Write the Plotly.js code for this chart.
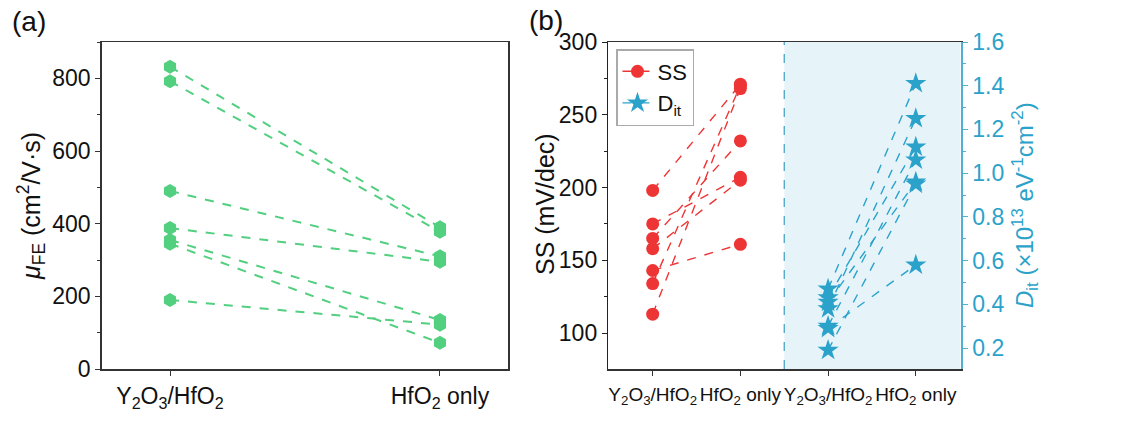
<!DOCTYPE html>
<html>
<head>
<meta charset="utf-8">
<script src="https://cdn.plot.ly/plotly-3.0.1.min.js"></script>
<style>html,body{margin:0;padding:0;background:#fff;}#chart{width:1123px;height:421px;}</style>
</head>
<body>
<div id="chart"></div>
<script>
// ---------- Data ----------
const categoriesA = ["Y<sub>2</sub>O<sub>3</sub>/HfO<sub>2</sub>", "HfO<sub>2</sub> only"];
// Panel (a): field-effect mobility, paired devices
const muY2O3 = [832, 792, 490, 388, 355, 345, 190];
const muHfO2 = [390, 378, 310, 295, 135, 72, 122];

// Panel (b): subthreshold swing (mV/dec)
const ssY2O3 = [198, 175, 165, 158, 143, 134, 113];
const ssHfO2 = [271, 207, 232, 205, 161, 270, 268];

// Panel (b): interface trap density (x1e13 eV^-1 cm^-2)
const ditY2O3 = [0.47, 0.43, 0.41, 0.38, 0.30, 0.29, 0.19];
const ditHfO2 = [1.41, 1.12, 0.96, 1.25, 1.06, 0.58, 0.95];

const categoriesB = ["Y<sub>2</sub>O<sub>3</sub>/HfO<sub>2</sub>", "HfO<sub>2</sub> only",
                     "Y<sub>2</sub>O<sub>3</sub>/HfO<sub>2</sub>", "HfO<sub>2</sub> only"];
const muTicks = [0, 200, 400, 600, 800];
const ssTicks = [100, 150, 200, 250, 300];
const ditTicks = [0.2, 0.4, 0.6, 0.8, 1.0, 1.2, 1.4, 1.6];

// ---------- Styles ----------
const FONT = "Liberation Sans, Arial, Helvetica, sans-serif";
const GREEN = "#52CF7F";
const RED = "#EE3535";
const BLUE = "#2BA2CA";
const BLUE_AXIS = "#4FB0D4";

const traces = [];
// Panel (a)
for (let i = 0; i < muY2O3.length; i++) {
  traces.push({
    x: [0, 1], y: [muY2O3[i], muHfO2[i]],
    xaxis: "x", yaxis: "y", mode: "lines+markers", showlegend: false,
    line: {color: GREEN, width: 2, dash: "dash"},
    marker: {symbol: "hexagon", size: 14, color: GREEN}
  });
}
// Panel (b) SS
for (let i = 0; i < ssY2O3.length; i++) {
  traces.push({
    x: [0, 1], y: [ssY2O3[i], ssHfO2[i]],
    xaxis: "x2", yaxis: "y2", mode: "lines+markers",
    name: "SS", legendgroup: "ss", showlegend: i === 0,
    line: {color: RED, width: 1.4, dash: "dash"},
    marker: {symbol: "circle", size: 13, color: RED}
  });
}
// Panel (b) Dit
for (let i = 0; i < ditY2O3.length; i++) {
  traces.push({
    x: [2, 3], y: [ditY2O3[i], ditHfO2[i]],
    xaxis: "x2", yaxis: "y3", mode: "lines+markers",
    name: "D<sub>it</sub>", legendgroup: "dit", showlegend: i === 0,
    line: {color: BLUE, width: 1.4, dash: "dash"},
    marker: {symbol: "star", size: 16, color: BLUE}
  });
}

const yTop = 1 - 42 / 421, yBot = 1 - 369 / 421;
const tickFont = {family: FONT, size: 23, color: "#111"};

const layout = {
  width: 1123, height: 421,
  margin: {l: 0, r: 0, t: 0, b: 0},
  paper_bgcolor: "#fff", plot_bgcolor: "rgba(0,0,0,0)",
  font: {family: FONT, color: "#111"},
  showlegend: true,
  legend: {
    x: 616 / 1123, y: 1 - 49 / 421, xanchor: "left", yanchor: "top",
    bgcolor: "#fff", bordercolor: "#aaa", borderwidth: 1.5,
    font: {family: FONT, size: 22, color: "#111"},
    tracegroupgap: 0, itemwidth: 30
  },
  xaxis: {
    domain: [101.7 / 1123, 508 / 1123], anchor: "y",
    range: [-0.253, 1.252], tickvals: [0, 1], ticktext: categoriesA,
    showgrid: false, zeroline: false, showline: true, linecolor: "#333", linewidth: 1.5,
    mirror: true, ticks: "outside", ticklen: 5, tickcolor: "#333",
    tickfont: tickFont, ticklabelstandoff: 1, tickangle: 0
  },
  yaxis: {
    domain: [yBot, yTop], anchor: "x",
    range: [0, 900], tickvals: muTicks,
    showgrid: false, zeroline: false, showline: true, linecolor: "#333", linewidth: 1.5,
    mirror: true, ticks: "outside", ticklen: 5, tickcolor: "#333",
    tickfont: tickFont,
    minor: {dtick: 100, ticks: "outside", ticklen: 3, tickcolor: "#333"}
  },
  xaxis2: {
    domain: [608.3 / 1123, 960.7 / 1123], anchor: "y2",
    range: [-0.506, 3.512], tickvals: [0, 1, 2, 3], ticktext: categoriesB,
    showgrid: false, zeroline: false, showline: true, linecolor: "#333", linewidth: 1.5,
    mirror: true, ticks: "outside", ticklen: 5, tickcolor: "#333",
    tickfont: {family: FONT, size: 19, color: "#111"}, ticklabelstandoff: 3, tickangle: 0
  },
  yaxis2: {
    domain: [yBot, yTop], anchor: "x2",
    range: [75.3, 300], tickvals: ssTicks,
    showgrid: false, zeroline: false, showline: true, linecolor: "#222", linewidth: 1.5,
    ticks: "outside", ticklen: 5, tickcolor: "#222",
    tickfont: tickFont,
    minor: {dtick: 25, ticks: "outside", ticklen: 3, tickcolor: "#222"}
  },
  yaxis3: {
    overlaying: "y2", side: "right", anchor: "x2",
    range: [0.104, 1.6], tickvals: ditTicks, tickformat: ".1f",
    showgrid: false, zeroline: false, showline: true, linecolor: BLUE_AXIS, linewidth: 2,
    ticks: "outside", ticklen: 5, tickcolor: BLUE_AXIS,
    tickfont: {family: FONT, size: 23, color: BLUE},
    minor: {dtick: 0.1, ticks: "outside", ticklen: 3, tickcolor: BLUE_AXIS}
  },
  shapes: [
    {type: "rect", xref: "x2", yref: "paper", x0: 1.5, x1: 3.512, y0: yBot, y1: yTop,
     fillcolor: "#E6F4FA", line: {width: 0}, layer: "below"},
    {type: "line", xref: "x2", yref: "paper", x0: 1.5, x1: 1.5, y0: yBot, y1: yTop,
     line: {color: "#3C9DC0", width: 1.2, dash: "dash"}, layer: "below"}
  ],
  annotations: [
    {text: "(a)", xref: "paper", yref: "paper", x: 10 / 1123, y: 1 - 22 / 421,
     xanchor: "left", yanchor: "middle", showarrow: false,
     font: {family: FONT, size: 28, color: "#111"}},
    {text: "(b)", xref: "paper", yref: "paper", x: 527 / 1123, y: 1 - 20 / 421,
     xanchor: "left", yanchor: "middle", showarrow: false,
     font: {family: FONT, size: 28, color: "#111"}},
    {text: "<i>μ</i><sub>FE</sub> (cm<sup>2</sup>/V·s)", xref: "paper", yref: "paper",
     x: 31 / 1123, y: 1 - 206 / 421, textangle: -90, showarrow: false,
     xanchor: "center", yanchor: "middle",
     font: {family: FONT, size: 25, color: "#111"}},
    {text: "SS (mV/dec)", xref: "paper", yref: "paper",
     x: 545 / 1123, y: 1 - 204 / 421, textangle: -90, showarrow: false,
     xanchor: "center", yanchor: "middle",
     font: {family: FONT, size: 25, color: "#111"}},
    {text: "<i>D</i><sub>it</sub> (×10<sup>13</sup> eV<sup>-1</sup>cm<sup>-2</sup>)", xref: "paper", yref: "paper",
     x: 1025 / 1123, y: 1 - 205 / 421, textangle: -90, showarrow: false,
     xanchor: "center", yanchor: "middle",
     font: {family: FONT, size: 24, color: BLUE}}
  ]
};

Plotly.newPlot("chart", traces, layout, {displayModeBar: false, staticPlot: true});
</script>
</body>
</html>
